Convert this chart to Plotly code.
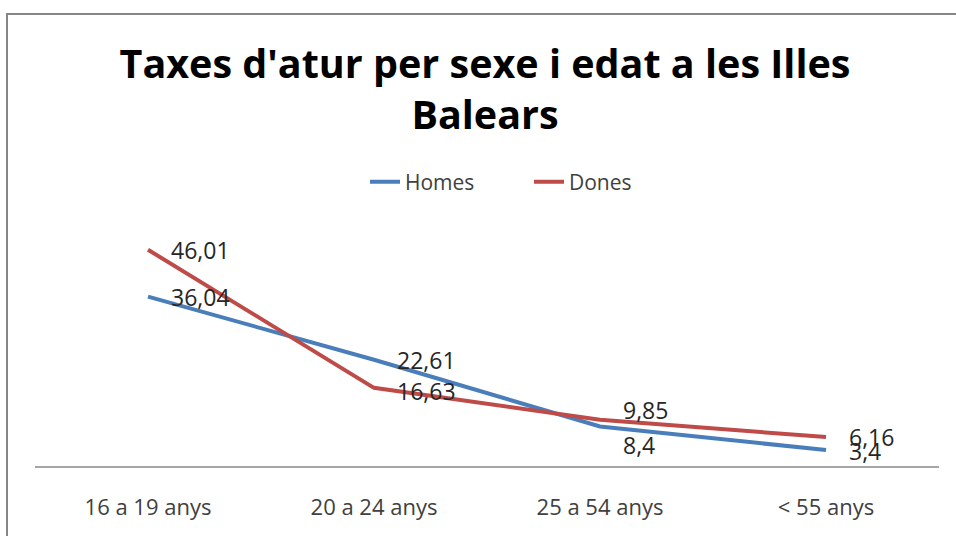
import plotly.graph_objects as go

categories = ["16 a 19 anys", "20 a 24 anys", "25 a 54 anys", "< 55 anys"]
homes = [36.04, 22.61, 8.4, 3.4]
dones = [46.01, 16.63, 9.85, 6.16]
homes_labels = ["36,04", "22,61", "8,4", "3,4"]
dones_labels = ["46,01", "16,63", "9,85", "6,16"]

BLUE = "#4A7EBB"
RED = "#BE4B48"
FONT = "Open Sans"

fig = go.Figure()
fig.add_trace(go.Scatter(x=categories, y=homes, mode="lines", name="Homes",
                         line=dict(color=BLUE, width=4)))
fig.add_trace(go.Scatter(x=categories, y=dones, mode="lines", name="Dones",
                         line=dict(color=RED, width=4)))

# data labels (Excel-style, to the right of points)
h_shift = [0, 0, -18, -1]
d_shift = [0, -3, 10, 0]
for i, c in enumerate(categories):
    fig.add_annotation(x=c, y=homes[i], text=homes_labels[i], showarrow=False,
                       xanchor="left", yanchor="middle", xshift=21, yshift=h_shift[i],
                       font=dict(family=FONT, size=23, color="#262626"))
    fig.add_annotation(x=c, y=dones[i], text=dones_labels[i], showarrow=False,
                       xanchor="left", yanchor="middle", xshift=21, yshift=d_shift[i],
                       font=dict(family=FONT, size=23, color="#262626"))

# outer chart frame
fig.add_shape(type="rect", xref="paper", yref="paper",
              x0=(7 - 35) / 904, x1=2, y0=-1, y1=(466 - 14) / 235,
              line=dict(color="#868686", width=2), fillcolor="rgba(0,0,0,0)", layer="below")

fig.update_layout(
    width=956, height=536,
    margin=dict(l=35, r=17, t=231, b=70, autoexpand=False),
    paper_bgcolor="white", plot_bgcolor="white",
    title=dict(text="<b>Taxes d'atur per sexe i edat a les Illes<br>Balears</b>",
               x=485 / 956, xanchor="center", y=1 - 78 / 536, yanchor="middle",
               font=dict(family=FONT, size=39.5, color="black")),
    legend=dict(orientation="h", x=(365 - 35) / 904, xanchor="left",
                y=(466 - 182) / 235, yanchor="middle",
                entrywidth=119, entrywidthmode="pixels",
                font=dict(family=FONT, size=21, color="#404040"),
                bgcolor="rgba(0,0,0,0)"),
    xaxis=dict(type="category", range=[-0.5, 3.5], showgrid=False, zeroline=False,
               showline=True, linecolor="#A6A6A6", linewidth=1.5, ticks="",
               ticklabelstandoff=21, automargin=False,
               tickfont=dict(family=FONT, size=22, color="#404040")),
    yaxis=dict(range=[0, 50], showgrid=False, zeroline=False, showline=False,
               showticklabels=False, automargin=False),
    showlegend=True,
)

fig.write_html("out.html", config={"displayModeBar": False},
               post_script="document.body.style.margin='0';")
